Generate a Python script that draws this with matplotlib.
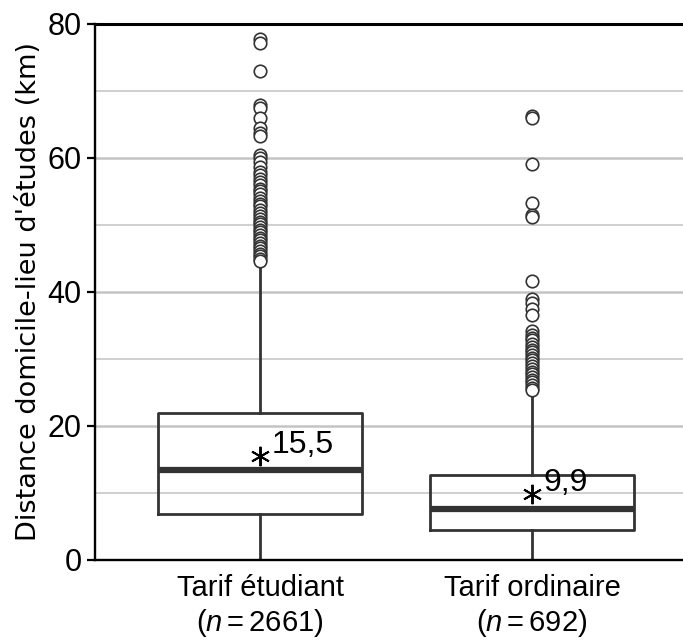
import matplotlib
matplotlib.use("Agg")
import matplotlib.pyplot as plt
from matplotlib.ticker import MultipleLocator

plt.rcParams['font.family'] = ['Liberation Sans', 'DejaVu Sans']
plt.rcParams['mathtext.fontset'] = 'custom'
plt.rcParams['mathtext.it'] = 'Liberation Sans:italic'
plt.rcParams['mathtext.rm'] = 'Liberation Sans'

# Données
groupes = ["Tarif étudiant\n($n = 2661$)", "Tarif ordinaire\n($n = 692$)"]
q1 = [6.9, 4.5]
mediane = [13.4, 7.6]
q3 = [22.0, 12.7]
moustache_bas = [0.0, 0.0]
moustache_haut = [44.4, 25.0]
moyenne = [15.5, 9.9]
etiquettes_moyenne = ["15,5", "9,9"]

extremes_etudiant = [77.8, 77.1, 73.0, 67.9, 67.4, 66.0, 64.5, 63.8, 63.3, 60.5,
                     60.0, 59.4, 58.6, 57.9, 57.5, 56.9, 56.4, 55.9, 55.4, 55.0,
                     54.6, 54.1, 53.6, 53.2, 52.8, 52.3, 51.8, 51.3, 50.9, 50.5,
                     50.1, 49.7, 49.3, 48.9, 48.5, 48.1, 47.7, 47.3, 46.9, 46.5,
                     46.1, 45.7, 45.3, 44.9, 44.6]
extremes_ordinaire = [66.2, 66.0, 59.1, 53.3, 51.5, 51.2, 41.7, 39.0, 38.3, 37.4,
                      36.6, 34.2, 33.6, 33.2, 32.8, 32.3, 31.8, 31.4, 31.0, 30.6,
                      30.2, 29.8, 29.4, 29.0, 28.5, 28.1, 27.7, 27.3, 26.9, 26.5,
                      26.1, 25.7, 25.3]
extremes = [extremes_etudiant, extremes_ordinaire]

stats = []
for i in range(2):
    stats.append({
        "q1": q1[i], "med": mediane[i], "q3": q3[i],
        "whislo": moustache_bas[i], "whishi": moustache_haut[i],
        "mean": moyenne[i], "fliers": extremes[i], "label": groupes[i],
    })

fig = plt.figure(figsize=(6.83, 6.41), dpi=100)
ax = fig.add_axes([0.139, 0.1264, 0.861, 0.8362])

gris = "#333333"
ax.bxp(stats, positions=[1, 2], widths=0.75, showmeans=True, showcaps=False,
       boxprops=dict(color=gris, linewidth=2.0),
       whiskerprops=dict(color=gris, linewidth=2.0),
       medianprops=dict(color=gris, linewidth=4.5, solid_capstyle='butt'),
       meanprops=dict(marker=(6, 2, 0), markersize=14, markeredgecolor='black',
                      markeredgewidth=1.4, markerfacecolor='black'),
       flierprops=dict(marker='o', markersize=9, markerfacecolor='white',
                       markeredgecolor=gris, markeredgewidth=1.2))

# étiquettes des moyennes
for i in range(2):
    ax.annotate(etiquettes_moyenne[i], (i + 1, moyenne[i]), xytext=(8, -3),
                textcoords='offset points', ha='left', va='bottom', fontsize=23)

ax.set_xlim(0.393, 2.555)
ax.set_ylim(0, 80)
ax.yaxis.set_major_locator(MultipleLocator(20))
ax.yaxis.set_minor_locator(MultipleLocator(10))
ax.grid(axis='y', which='major', color='#c4c4c4', linewidth=1.8)
ax.grid(axis='y', which='minor', color='#cccccc', linewidth=1.3)
ax.set_axisbelow(True)

ax.spines['right'].set_visible(False)
for s in ['left', 'bottom']:
    ax.spines[s].set_linewidth(1.7)
ax.spines['top'].set_linewidth(2.2)

ax.tick_params(axis='y', which='major', labelsize=22, length=6, width=1.6)
ax.tick_params(axis='y', which='minor', length=0)
ax.tick_params(axis='x', length=0, labelsize=21, pad=10)

ax.set_ylabel("Distance domicile-lieu d'études (km)", fontsize=19.5,
              family=['DejaVu Sans'], labelpad=4)

fig.savefig("out.png", dpi=100)
